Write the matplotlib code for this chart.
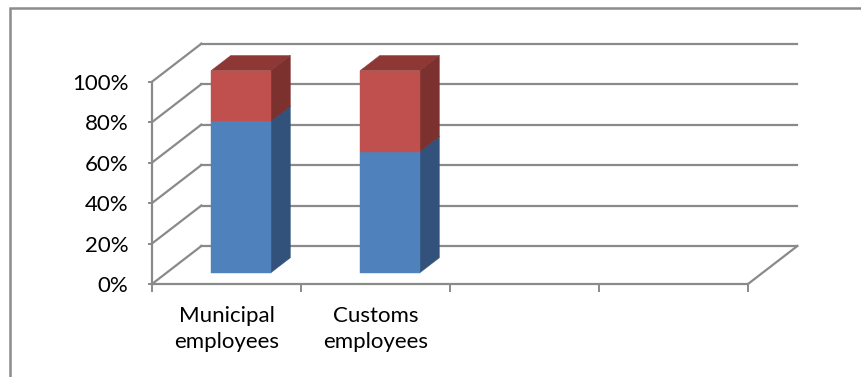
import matplotlib.pyplot as plt
from matplotlib.patches import Polygon, Rectangle
from matplotlib.lines import Line2D

plt.rcParams['font.family'] = ['Lato', 'DejaVu Sans']

# data
categories = ["Municipal\nemployees", "Customs\nemployees", "", ""]
blue_vals = [75, 60]
red_vals = [25, 40]
y_ticks = [0, 20, 40, 60, 80, 100]

# 3d look: offset of the back wall in data units
DX, DY = 0.3315, 18.8
bar_w = 0.4
d_front, d_back = 0.29, 0.69

grid_col = '#8a8a8a'
blue, blue_side = '#4F81BD', '#32527B'
red, red_side, red_top = '#C0504D', '#7D312F', '#8E3836'

fig = plt.figure(figsize=(8.62, 3.77), dpi=100)
W, H = 862, 377
ax = fig.add_axes([152 / W, 93 / H, 596 / W, 202.3 / H])
ax.set_xlim(0, 4)
ax.set_ylim(0, 100)
ax.patch.set_visible(False)


def off(x, y, d):
    return (x + d * DX, y + d * DY)


# back wall gridlines + left wall diagonals
for v in y_ticks:
    ax.add_line(Line2D([DX, 4 + DX], [v + DY, v + DY], color=grid_col, lw=1.6, clip_on=False, zorder=1))
    ax.add_line(Line2D([0, DX], [v, v + DY], color=grid_col, lw=1.6, clip_on=False, zorder=1))
# right floor edge
ax.add_line(Line2D([4, 4 + DX], [0, DY], color=grid_col, lw=1.6, clip_on=False, zorder=1))


def box(xc, y0, y1, face, side, top, z):
    xl, xr = xc - bar_w / 2, xc + bar_w / 2
    front = [off(xl, y0, d_front), off(xr, y0, d_front), off(xr, y1, d_front), off(xl, y1, d_front)]
    sd = [off(xr, y0, d_front), off(xr, y0, d_back), off(xr, y1, d_back), off(xr, y1, d_front)]
    tp = [off(xl, y1, d_front), off(xr, y1, d_front), off(xr, y1, d_back), off(xl, y1, d_back)]
    for pts, c in ((tp, top), (sd, side), (front, face)):
        ax.add_patch(Polygon(pts, closed=True, facecolor=c, edgecolor=c, lw=0.3, clip_on=False, zorder=z))


for i in range(len(blue_vals)):
    xc = i + 0.5
    box(xc, 0, blue_vals[i], blue, blue_side, blue_side, 3)
    box(xc, blue_vals[i], blue_vals[i] + red_vals[i], red, red_side, red_top, 4)

# axes
for s in ('top', 'right'):
    ax.spines[s].set_visible(False)
for s in ('left', 'bottom'):
    ax.spines[s].set_color(grid_col)
    ax.spines[s].set_linewidth(1.6)
ax.set_yticks(y_ticks)
ax.set_yticklabels([f"{v}%" for v in y_ticks], fontsize=16)
ax.set_xticks(range(5))
ax.set_xticklabels([])
ax.set_xticks([i + 0.5 for i in range(len(categories))], minor=True)
ax.set_xticklabels(categories, minor=True, fontsize=16, linespacing=1.35)
ax.tick_params(axis='y', length=3, width=1.4, color=grid_col, pad=14)
ax.tick_params(axis='x', which='major', length=6, width=1.4, color=grid_col)
ax.tick_params(axis='x', which='minor', length=0, pad=16)

# outer chart frame
fig.add_artist(Rectangle((10.5 / W, -0.1), 1.0, (377 - 8.5) / H + 0.1, transform=fig.transFigure,
                         fill=False, edgecolor='#8c8c8c', lw=1.8))

fig.savefig('out.png', dpi=100)
